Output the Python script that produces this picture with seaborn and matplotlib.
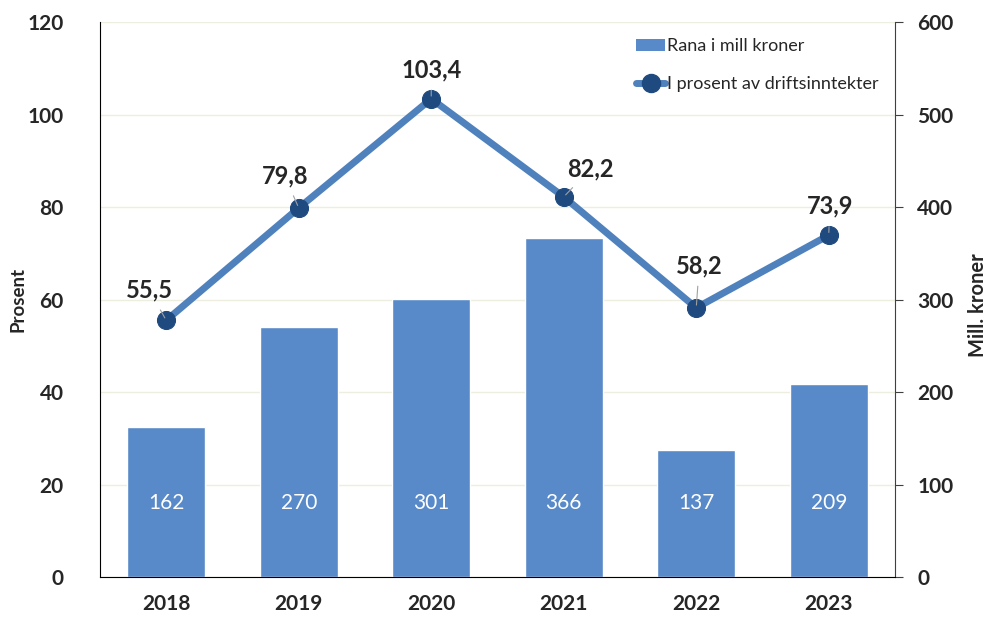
import matplotlib
matplotlib.use("Agg")
import matplotlib.pyplot as plt
from matplotlib.lines import Line2D
from matplotlib.patches import Patch
import pandas as pd
import seaborn as sns

# Chart data
years = ['2018', '2019', '2020', '2021', '2022', '2023']
mill_kroner = [162, 270, 301, 366, 137, 209]
prosent = [55.5, 79.8, 103.4, 82.2, 58.2, 73.9]
prosent_labels = ['55,5', '79,8', '103,4', '82,2', '58,2', '73,9']
# label offsets in pixels (dx, dy) from each point
label_offsets = [(-17, 30), (-14, 32), (0, 29), (27, 28), (3, 42), (1, 29)]

bar_color = '#5889C8'
line_color = '#4F81BD'
marker_color = '#1F4A7F'
grid_color = '#EDEDE0'

sns.set_style("white")
plt.rcParams['font.family'] = ['Lato', 'DejaVu Sans']

df = pd.DataFrame({'year': years, 'mill': mill_kroner, 'pct': prosent})

fig = plt.figure(figsize=(9.86, 6.22), dpi=100)
ax = fig.add_axes([0.1014, 0.0723, 0.8063, 0.8923])
ax2 = ax.twinx()

# Bars on the right axis (Mill. kroner)
sns.barplot(data=df, x='year', y='mill', color=bar_color, width=0.59,
            saturation=1, ax=ax2, zorder=2)
ax2.set_ylim(0, 600)
ax2.set_yticks(range(0, 601, 100))
ax2.grid(axis='y', color=grid_color, linewidth=1)
ax2.set_axisbelow(True)
for i, v in enumerate(mill_kroner):
    ax2.text(i, 80, str(v), color='white', ha='center', va='center', fontsize=15)

# Line on the left axis (Prosent)
ax.set_zorder(ax2.get_zorder() + 1)
ax.patch.set_visible(False)
sns.lineplot(data=df, x='year', y='pct', color=line_color, linewidth=5,
             marker='o', markersize=13, markerfacecolor=marker_color,
             markeredgecolor=marker_color, ax=ax, sort=False)
ax.set_ylim(0, 120)
ax.set_yticks(range(0, 121, 20))
ax.set_xlim(-0.5, 5.5)

for i, (v, lab) in enumerate(zip(prosent, prosent_labels)):
    dx, dy = label_offsets[i]
    ax.annotate(lab, xy=(i, v), xytext=(dx, dy), textcoords='offset pixels',
                ha='center', va='center', fontsize=17, fontweight='bold',
                arrowprops=dict(arrowstyle='-', color='#A0A0A0', lw=0.8,
                                shrinkA=4, shrinkB=2))

# Axes styling
ax.set_xlabel('')
ax.set_ylabel('Prosent', fontsize=13.5, fontweight='bold')
ax.yaxis.set_label_coords(-0.092, 0.5)
ax2.set_xlabel('')
ax2.set_ylabel('Mill. kroner', fontsize=14.5, fontweight='bold')
ax2.yaxis.set_label_coords(1.0915, 0.49)
ax.tick_params(axis='y', length=0, pad=26, labelsize=15)
ax.tick_params(axis='x', length=0, pad=12, labelsize=15)
ax2.tick_params(axis='y', length=6, direction='out', pad=10, labelsize=15,
                color='#404040')
for t in ax.get_yticklabels() + ax.get_xticklabels() + ax2.get_yticklabels():
    t.set_fontweight('bold')

for a in (ax, ax2):
    a.spines['top'].set_visible(False)
ax.spines['right'].set_visible(False)
ax.spines['left'].set_color('black')
ax.spines['bottom'].set_color('black')
ax2.spines['left'].set_visible(False)
ax2.spines['bottom'].set_visible(False)
ax2.spines['right'].set_color('#404040')

handles = [Patch(facecolor=bar_color, edgecolor='none'),
           Line2D([], [], color=line_color, linewidth=5, marker='o',
                  markersize=13, markerfacecolor=marker_color,
                  markeredgecolor=marker_color)]
ax.legend(handles, ['Rana i mill kroner', 'I prosent av driftsinntekter'],
          loc='upper right', bbox_to_anchor=(1.0, 1.0), frameon=False,
          fontsize=13, labelspacing=1.2, handlelength=1.6, handletextpad=0.1)

plt.savefig('out.png', dpi=100)
